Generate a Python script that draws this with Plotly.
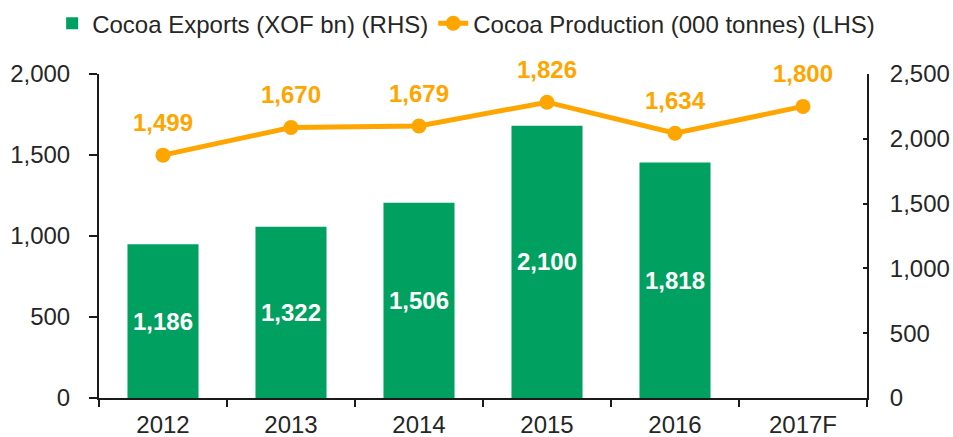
import plotly.graph_objects as go

years = ["2012", "2013", "2014", "2015", "2016", "2017F"]
exports_xof_bn = [1186, 1322, 1506, 2100, 1818, None]
production_000t = [1499, 1670, 1679, 1826, 1634, 1800]

left_ticks = [0, 500, 1000, 1500, 2000]
right_ticks = [0, 500, 1000, 1500, 2000, 2500]

GREEN = "#00A060"
ORANGE = "#FFA500"
TXT = "#262626"
AX = "#1a1a1a"
FONT = "Liberation Sans, Arial, sans-serif"

fig = go.Figure()
fig.add_trace(go.Bar(
    x=years, y=exports_xof_bn, name="Cocoa Exports (XOF bn) (RHS)",
    marker=dict(color=GREEN, line=dict(width=0)),
    texttemplate="%{y:,.0f}", textposition="inside", insidetextanchor="middle",
    textfont=dict(color="white", size=24, family=FONT, weight="bold"),
    constraintext="none", yaxis="y", cliponaxis=False,
))
fig.add_trace(go.Scatter(
    x=years, y=production_000t, name="Cocoa Production (000 tonnes) (LHS)",
    mode="lines+markers", line=dict(color=ORANGE, width=5),
    marker=dict(color=ORANGE, size=15), yaxis="y2", cliponaxis=False,
))

for i, yv in enumerate(production_000t):
    fig.add_annotation(x=i, y=yv, xref="x", yref="y2", text=f"<b>{yv:,}</b>",
                       showarrow=False, yshift=33,
                       font=dict(color=ORANGE, size=24, family=FONT))

fig.update_layout(
    width=953, height=437,
    margin=dict(l=99, r=86, t=74, b=39, autoexpand=False),
    paper_bgcolor="white", plot_bgcolor="white",
    font=dict(family=FONT, size=24, color=TXT),
    bargap=0.445,
    showlegend=True,
    legend=dict(orientation="h", x=-0.061, xref="paper", xanchor="left",
                y=1.225, yref="paper", yanchor="top",
                font=dict(size=24, color=TXT),
                bgcolor="rgba(0,0,0,0)", traceorder="normal"),
    xaxis=dict(type="category", range=[-0.5, 5.5], showline=True, linecolor=AX, linewidth=2,
               ticks="outside", tickson="boundaries", ticklen=7, tickcolor=AX, tickwidth=1.5,
               showgrid=False, tickfont=dict(size=24, color=TXT), ticklabelstandoff=4,
               tickangle=0, automargin=False),
    yaxis=dict(side="right", range=[0, 2500], tickvals=right_ticks,
               ticktext=[f"{v:,}" for v in right_ticks],
               showline=True, linecolor=AX, linewidth=2,
               ticks="inside", ticklen=4, tickcolor=AX, tickwidth=1.5,
               showgrid=False, zeroline=False, tickfont=dict(size=24, color=TXT),
               ticklabelstandoff=16, automargin=False),
    yaxis2=dict(side="left", overlaying="y", range=[0, 2000], tickvals=left_ticks,
                ticktext=[f"{v:,}" for v in left_ticks],
                showline=True, linecolor=AX, linewidth=2,
                ticks="outside", ticklen=8, tickcolor=AX, tickwidth=1.5,
                showgrid=False, zeroline=False, tickfont=dict(size=24, color=TXT),
                ticklabelstandoff=14, automargin=False),
)

fig.write_html("out.html", config={"displayModeBar": False},
               post_script="document.body.style.margin='0';document.body.style.overflow='hidden';")
